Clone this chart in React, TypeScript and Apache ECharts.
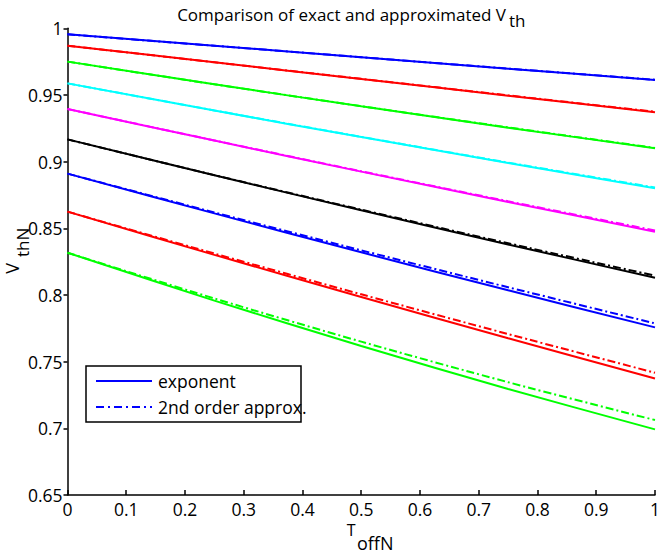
import React, { useEffect, useRef } from "react";
import * as echarts from "echarts";

// x positions (T_offN) at which values were read
const tOff = [0, 0.25, 0.5, 0.75, 1];

// exact (exponent) curves, top to bottom
const exact1 = [0.9955, 0.9869, 0.9783, 0.9697, 0.9612];
const exact2 = [0.987, 0.9745, 0.962, 0.9495, 0.937];
const exact3 = [0.975, 0.958, 0.9415, 0.9255, 0.91];
const exact4 = [0.9587, 0.9383, 0.9184, 0.899, 0.88];
const exact5 = [0.9395, 0.9158, 0.8925, 0.8698, 0.8475];
const exact6 = [0.9167, 0.8898, 0.8635, 0.8379, 0.813];
const exact7 = [0.891, 0.8612, 0.832, 0.8035, 0.7757];
const exact8 = [0.8625, 0.8301, 0.7985, 0.7676, 0.7374];
const exact9 = [0.8317, 0.7958, 0.7617, 0.7295, 0.6992];

// 2nd order approximation curves
const approx1 = [0.9955, 0.9869, 0.9783, 0.9698, 0.9614];
const approx2 = [0.987, 0.9745, 0.9621, 0.9497, 0.9374];
const approx3 = [0.975, 0.958, 0.9416, 0.9257, 0.9103];
const approx4 = [0.9587, 0.9384, 0.9186, 0.8993, 0.8806];
const approx5 = [0.9395, 0.9159, 0.8928, 0.8703, 0.8484];
const approx6 = [0.9167, 0.8899, 0.864, 0.8388, 0.8145];
const approx7 = [0.891, 0.8619, 0.8335, 0.8058, 0.7787];
const approx8 = [0.8625, 0.8311, 0.8005, 0.7707, 0.7417];
const approx9 = [0.8317, 0.7974, 0.765, 0.7346, 0.7062];

const exactCurves = [exact1, exact2, exact3, exact4, exact5, exact6, exact7, exact8, exact9];
const approxCurves = [approx1, approx2, approx3, approx4, approx5, approx6, approx7, approx8, approx9];
const curveColors = ["#0000ff", "#ff0000", "#00ff00", "#00ffff", "#ff00ff", "#000000", "#0000ff", "#ff0000", "#00ff00"];

const titleMain = "Comparison of exact and approximated V";
const titleSub = "th";
const legendLabels = ["exponent", "2nd order approx."];

const FONT = "'Open Sans', 'DejaVu Sans', sans-serif";

export default function App() {
  const ref = useRef<HTMLDivElement>(null);

  useEffect(() => {
    if (!ref.current) return;
    const chart = echarts.init(ref.current, undefined, { renderer: "svg" });

    const series: any[] = [];
    approxCurves.forEach((arr, i) => {
      series.push({
        name: "approx" + (i + 1),
        type: "line",
        data: tOff.map((x, k) => [x, arr[k]]),
        showSymbol: false,
        smooth: 0.3,
        z: 2,
        lineStyle: { color: curveColors[i], width: 2, type: [8, 3, 2, 3] },
      });
    });
    exactCurves.forEach((arr, i) => {
      series.push({
        name: "exact" + (i + 1),
        type: "line",
        data: tOff.map((x, k) => [x, arr[k]]),
        showSymbol: false,
        smooth: 0.3,
        z: 3,
        lineStyle: { color: curveColors[i], width: 2, type: "solid" },
      });
    });

    const fmt = (v: number) => String(+v.toFixed(2));

    chart.setOption({
      animation: false,
      backgroundColor: "#ffffff",
      grid: { left: 67.5, right: 7.5, top: 28.3, bottom: 60 },
      xAxis: {
        type: "value",
        min: 0,
        max: 1,
        interval: 0.1,
        axisLine: { show: true, lineStyle: { color: "#000", width: 1.5 } },
        axisTick: { show: true, inside: true, length: 5, lineStyle: { color: "#000", width: 1.5 } },
        splitLine: { show: false },
        axisLabel: { color: "#000", fontSize: 17.5, fontFamily: FONT, margin: 5, formatter: fmt },
      },
      yAxis: {
        type: "value",
        min: 0.65,
        max: 1,
        interval: 0.05,
        axisLine: { show: true, lineStyle: { color: "#000", width: 1.5 } },
        axisTick: { show: true, inside: false, length: 4, lineStyle: { color: "#000", width: 1.5 } },
        splitLine: { show: false },
        axisLabel: { color: "#000", fontSize: 17.5, fontFamily: FONT, margin: 5, formatter: fmt },
      },
      series,
      graphic: [
        {
          type: "text",
          x: 506,
          y: 14,
          style: { text: titleMain, fontSize: 17, fontFamily: FONT, fill: "#000", align: "right", verticalAlign: "middle" },
        },
        {
          type: "text",
          x: 509,
          y: 20,
          style: { text: titleSub, fontSize: 17, fontFamily: FONT, fill: "#000", align: "left", verticalAlign: "middle" },
        },
        {
          type: "text",
          x: 12,
          y: 263,
          rotation: Math.PI / 2,
          style: { text: "V", fontSize: 18, fontFamily: FONT, fill: "#000", align: "right", verticalAlign: "middle" },
        },
        {
          type: "text",
          x: 22,
          y: 257,
          rotation: Math.PI / 2,
          style: { text: "thN", fontSize: 17, fontFamily: FONT, fill: "#000", align: "left", verticalAlign: "middle" },
        },
        {
          type: "text",
          x: 355.5,
          y: 530,
          style: { text: "T", fontSize: 16, fontFamily: FONT, fill: "#000", align: "right", verticalAlign: "middle" },
        },
        {
          type: "text",
          x: 357,
          y: 543,
          style: { text: "offN", fontSize: 18, fontFamily: FONT, fill: "#000", align: "left", verticalAlign: "middle" },
        },
        {
          type: "rect",
          shape: { x: 86, y: 366, width: 215, height: 56 },
          style: { fill: "#fff", stroke: "#000", lineWidth: 1.5 },
          z: 10,
        },
        {
          type: "line",
          shape: { x1: 96, y1: 381, x2: 152, y2: 381 },
          style: { stroke: "#0000ff", lineWidth: 2 },
          z: 11,
        },
        {
          type: "line",
          shape: { x1: 96, y1: 407, x2: 152, y2: 407 },
          style: { stroke: "#0000ff", lineWidth: 2, lineDash: [8, 4, 2, 4] },
          z: 11,
        },
        {
          type: "text",
          x: 158,
          y: 381,
          z: 11,
          style: { text: legendLabels[0], fontSize: 17.5, fontFamily: FONT, fill: "#000", align: "left", verticalAlign: "middle" },
        },
        {
          type: "text",
          x: 158,
          y: 407,
          z: 11,
          style: { text: legendLabels[1], fontSize: 17.5, fontFamily: FONT, fill: "#000", align: "left", verticalAlign: "middle" },
        },
      ],
    });

    return () => chart.dispose();
  }, []);

  return <div ref={ref} style={{ position: "fixed", left: 0, top: 0, width: 663, height: 555 }} />;
}
